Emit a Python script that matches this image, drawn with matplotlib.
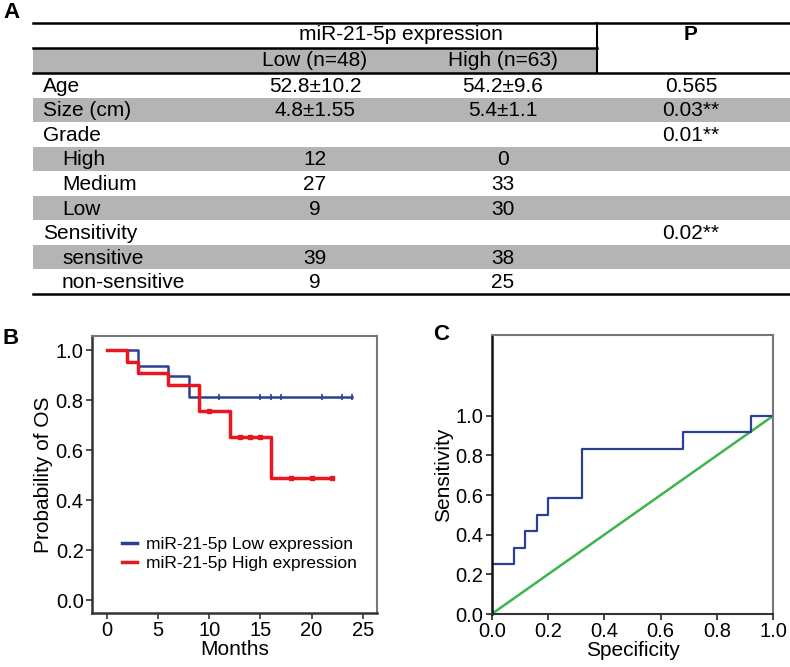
import matplotlib
matplotlib.use("Agg")
import matplotlib.pyplot as plt
from matplotlib.lines import Line2D
import numpy as np

plt.rcParams['font.family'] = ['Liberation Sans', 'DejaVu Sans']

# ---- table data (panel A)
row_labels = ["Age", "Size (cm)", "Grade", "High", "Medium", "Low",
              "Sensitivity", "sensitive", "non-sensitive"]
row_indent = [0, 0, 0, 1, 1, 1, 0, 1, 1]
low_vals = ["52.8±10.2", "4.8±1.55", "", "12", "27", "9", "", "39", "9"]
high_vals = ["54.2±9.6", "5.4±1.1", "", "0", "33", "30", "", "38", "25"]
p_vals = ["0.565", "0.03**", "0.01**", "", "", "", "0.02**", "", ""]
group_title = "miR-21-5p expression"
group_names = ["Low (n=48)", "High (n=63)"]

# ---- Kaplan-Meier data (panel B)
km_low_t = [0, 3, 6, 8, 24]
km_low_s = [1.0, 0.937, 0.896, 0.812, 0.812]
km_low_cens = [11, 15, 16, 17, 21, 23, 24]
km_high_t = [0, 2, 3, 6, 9, 12, 16, 22]
km_high_s = [1.0, 0.953, 0.907, 0.86, 0.757, 0.651, 0.487, 0.487]
km_high_cens = [10, 13, 14, 15, 18, 20, 22]

# ---- ROC data (panel C)
roc_x = [0.0, 0.0, 0.08, 0.08, 0.12, 0.12, 0.16, 0.16, 0.20, 0.20,
         0.32, 0.32, 0.68, 0.68, 0.92, 0.92, 1.0]
roc_y = [0.0, 0.25, 0.25, 0.333, 0.333, 0.417, 0.417, 0.5, 0.5, 0.583,
         0.583, 0.833, 0.833, 0.917, 0.917, 1.0, 1.0]

blue = "#2b3f95"
red = "#e8161e"
green = "#3db54a"
gray_row = "#b4b4b4"

fig = plt.figure(figsize=(7.9, 6.67), dpi=100)

# table drawn in pixel coordinates on a full figure axes
ax = fig.add_axes([0, 0, 1, 1])
ax.set_xlim(0, 790)
ax.set_ylim(667, 0)
ax.axis("off")

fs = 15
left, right, vline = 33, 790, 597
top, hline1, hline2 = 23, 47.5, 73
row_h = (294 - hline2) / len(row_labels)
col_low, col_high, col_p = 315, 503, 691

ax.fill_between([left, vline], hline1, hline2, color=gray_row, lw=0)
for i in range(len(row_labels)):
    y0 = hline2 + i * row_h
    if i % 2 == 1:
        ax.fill_between([left, right], y0, y0 + row_h, color=gray_row, lw=0)
    yc = y0 + row_h / 2 + 1
    x_lab = 43 if row_indent[i] == 0 else 62
    ax.text(x_lab, yc, row_labels[i], fontsize=fs, va="center", ha="left")
    ax.text(col_low, yc, low_vals[i], fontsize=fs, va="center", ha="center")
    ax.text(col_high, yc, high_vals[i], fontsize=fs, va="center", ha="center")
    ax.text(col_p, yc, p_vals[i], fontsize=fs, va="center", ha="center")

ax.plot([left, right], [top, top], color="k", lw=1.8)
ax.plot([left, vline], [hline1, hline1], color="k", lw=1.8)
ax.plot([left, right], [hline2, hline2], color="k", lw=1.8)
ax.plot([vline, vline], [top, hline2], color="k", lw=1.5)
ax.plot([left, right], [294, 294], color="k", lw=1.8)

ax.text(401, 35, group_title, fontsize=fs, ha="center", va="center")
ax.text(col_p, 35, "P", fontsize=fs, ha="center", va="center", fontweight="bold")
ax.text(col_low, 61, group_names[0], fontsize=fs, ha="center", va="center")
ax.text(col_high, 61, group_names[1], fontsize=fs, ha="center", va="center")

ax.text(3, 13, "A", fontsize=16, fontweight="bold", va="center")
ax.text(3, 338, "B", fontsize=16, fontweight="bold", va="center")
ax.text(433, 334, "C", fontsize=16, fontweight="bold", va="center")

# ---- panel B
axb = fig.add_axes([92 / 790, 54 / 667, 285 / 790, 277 / 667])
axb.step(km_low_t, km_low_s, where="post", color=blue, lw=1.8)
axb.step(km_high_t, km_high_s, where="post", color=red, lw=2.5)
idx = np.searchsorted(km_low_t, km_low_cens, side="right") - 1
axb.plot(km_low_cens, np.array(km_low_s)[idx], ls="none", marker="|",
         color=blue, ms=5, mew=1.2)
idx = np.searchsorted(km_high_t, km_high_cens, side="right") - 1
axb.plot(km_high_cens, np.array(km_high_s)[idx], ls="none", marker="s",
         color=red, ms=3)
axb.set_xlim(-1.46, 26.4)
axb.set_ylim(-0.052, 1.056)
axb.set_xticks([0, 5, 10, 15, 20, 25])
axb.set_yticks([0.0, 0.2, 0.4, 0.6, 0.8, 1.0])
axb.set_yticklabels(["0.0", "0.2", "0.4", "0.6", "0.8", "1.0"])
axb.tick_params(labelsize=14.5, length=4, width=1.2, color="#333333", pad=2)
axb.set_xlabel("Months", fontsize=15, labelpad=0)
axb.set_ylabel("Probability of OS", fontsize=15, labelpad=2)
for s in ["left", "bottom"]:
    axb.spines[s].set_color("#333333")
    axb.spines[s].set_linewidth(1.8)
for s in ["top", "right"]:
    axb.spines[s].set_color("#777777")
    axb.spines[s].set_linewidth(1.5)
handles = [Line2D([], [], color=blue, lw=2.5), Line2D([], [], color=red, lw=2.5)]
axb.legend(handles, ["miR-21-5p Low expression", "miR-21-5p High expression"],
           loc="upper left", bbox_to_anchor=(0.08, 0.3), frameon=False,
           fontsize=12.5, handlelength=0.9, handletextpad=0.5,
           labelspacing=0.2, borderaxespad=0)

# ---- panel C
axc = fig.add_axes([491.7 / 790, 53 / 667, 281.6 / 790, 279 / 667])
axc.plot([0, 1], [0, 1], color=green, lw=1.8)
axc.plot(roc_x, roc_y, color=blue, lw=1.6)
axc.set_xlim(0, 1)
axc.set_ylim(0, 1.407)
axc.set_xticks([0.0, 0.2, 0.4, 0.6, 0.8, 1.0])
axc.set_yticks([0.0, 0.2, 0.4, 0.6, 0.8, 1.0])
axc.set_xticklabels(["0.0", "0.2", "0.4", "0.6", "0.8", "1.0"])
axc.set_yticklabels(["0.0", "0.2", "0.4", "0.6", "0.8", "1.0"])
axc.tick_params(labelsize=14.5, length=4, width=1.2, color="#222222", pad=2)
axc.set_xlabel("Specificity", fontsize=15, labelpad=0)
axc.set_ylabel("Sensitivity", fontsize=15, labelpad=2)
axc.spines["left"].set_color("#111111")
axc.spines["left"].set_linewidth(1.8)
axc.spines["bottom"].set_color("#333333")
axc.spines["bottom"].set_linewidth(1.5)
for s in ["top", "right"]:
    axc.spines[s].set_color("#777777")
    axc.spines[s].set_linewidth(1.5)

fig.savefig("out.png", dpi=100)
